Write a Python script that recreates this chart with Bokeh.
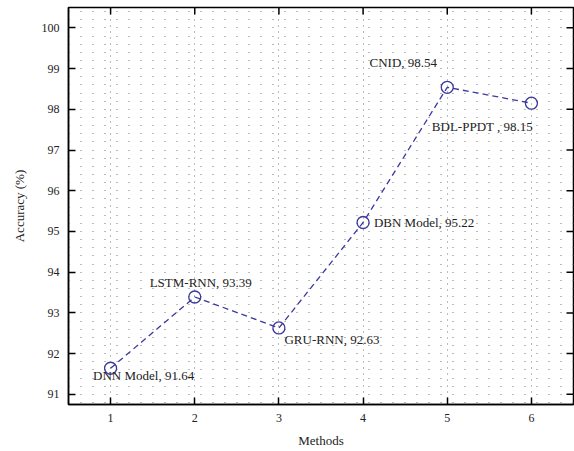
import math
from bokeh.plotting import figure
from bokeh.models import FixedTicker, ColumnDataSource
from bokeh.embed import file_html
from bokeh.resources import INLINE
from bokeh.core.properties import value

# accuracy of each method
methods = [1, 2, 3, 4, 5, 6]
accuracy = [91.64, 93.39, 92.63, 95.22, 98.54, 98.15]
names = ["DNN Model", "LSTM-RNN", "GRU-RNN", "DBN Model", "CNID", "BDL-PPDT "]
labels = [f"{n}, {a:.2f}" for n, a in zip(names, accuracy)]

# label placement (screen pixels relative to each point)
label_dx = [33, 6, 53, 61, -44, -49]
label_dy = [7, -15, 12, 0, -25, 23]

x_ticks = [1, 2, 3, 4, 5, 6]
y_ticks = [91, 92, 93, 94, 95, 96, 97, 98, 99, 100]

X_LO, X_HI = 0.5, 6.5
Y_LO, Y_HI = 90.75, 100.5

FONT = "Liberation Serif"
COLOR = "#3b389e"
INK = "#222222"

p = figure(width=574, height=451, output_backend="svg", toolbar_location=None,
           x_range=(X_LO, X_HI), y_range=(Y_LO, Y_HI),
           min_border_left=68, min_border_right=1, min_border_top=7,
           min_border_bottom=47)
p.background_fill_color = "white"
p.border_fill_color = "white"
p.outline_line_color = "black"
p.outline_line_width = 1.5

# bottom / left axes with inward ticks
for ax in (p.xaxis[0], p.yaxis[0]):
    ax.axis_line_width = 1.5
    ax.axis_line_color = "black"
    ax.major_tick_in = 7
    ax.major_tick_out = 0
    ax.minor_tick_in = 0
    ax.minor_tick_out = 0
    ax.major_tick_line_width = 1.5
    ax.major_label_text_font = FONT
    ax.major_label_text_font_size = "12px"
    ax.major_label_text_color = INK
    ax.axis_label_text_font = FONT
    ax.axis_label_text_font_size = "13px"
    ax.axis_label_text_font_style = "normal"
    ax.axis_label_text_color = INK

p.xaxis[0].ticker = FixedTicker(ticks=x_ticks)
p.yaxis[0].ticker = FixedTicker(ticks=y_ticks, minor_ticks=[])
p.xaxis[0].axis_label = "Methods"
p.yaxis[0].axis_label = "Accuracy (%)"
p.xaxis[0].major_label_standoff = 9
p.yaxis[0].major_label_standoff = 9
p.xaxis[0].axis_label_standoff = 8
p.yaxis[0].axis_label_standoff = 12

# mirrored tick marks along the top and right frame edges
p.scatter(x=x_ticks, y=[Y_HI] * len(x_ticks), marker="dash", size=14,
          angle=math.pi / 2, line_color="black", line_width=1.5)
p.scatter(x=[X_HI] * len(y_ticks), y=y_ticks, marker="dash", size=14,
          line_color="black", line_width=1.5)

# dotted grid
p.xgrid.ticker = FixedTicker(ticks=x_ticks)
p.xgrid.grid_line_color = "#777777"
p.xgrid.grid_line_dash = "1 5"
p.xgrid.grid_line_width = 1
minor_y = [90.8 + 0.2 * i for i in range(49)]
p.ygrid.ticker = FixedTicker(ticks=minor_y)
p.ygrid.grid_line_color = "#777777"
p.ygrid.grid_line_dash = "1 11"
p.ygrid.grid_line_width = 1

src = ColumnDataSource(dict(x=methods, y=accuracy, label=labels,
                            dx=label_dx, dy=label_dy))

p.line("x", "y", source=src, line_color=COLOR, line_width=1.3,
       line_dash="6 4")
p.scatter("x", "y", source=src, marker="circle", size=12,
          fill_color=None, line_color=COLOR, line_width=1.3)
p.text("x", "y", text="label", source=src, x_offset="dx", y_offset="dy",
       text_font=value(FONT), text_font_size="13px", text_color=INK,
       text_align="center", text_baseline="middle")

open("out.html", "w").write(file_html(p, INLINE))
